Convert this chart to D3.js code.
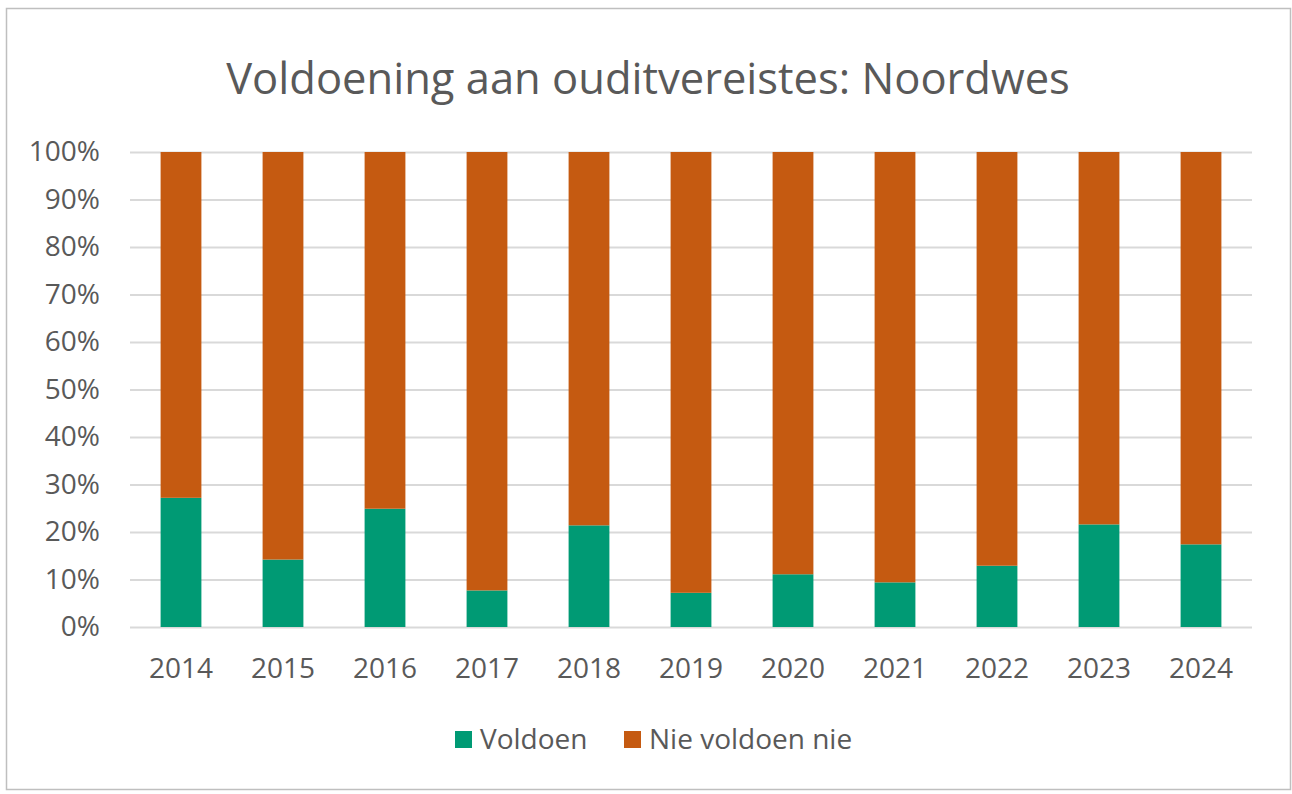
<!DOCTYPE html>
<html>
<head>
<meta charset="utf-8">
<script src="https://cdn.jsdelivr.net/npm/d3@7"></script>
<style>
  body { margin: 0; background: #fff; }
  svg { display: block; font-family: "Open Sans", "Noto Sans", sans-serif; }
</style>
</head>
<body>
<div id="chart"></div>
<script>
const years = ["2014", "2015", "2016", "2017", "2018", "2019", "2020", "2021", "2022", "2023", "2024"];
const voldoen = [27.2, 14.2, 24.9, 7.7, 21.4, 7.2, 11.1, 9.4, 12.9, 21.6, 17.4];
const nieVoldoen = voldoen.map(v => 100 - v);
const seriesNames = ["Voldoen", "Nie voldoen nie"];
const colors = ["#009a74", "#c55a11"];
const yTicks = [0, 10, 20, 30, 40, 50, 60, 70, 80, 90, 100];

const width = 1292, height = 794;
const margin = { top: 152, right: 40, bottom: 167, left: 130 };

const svg = d3.select("#chart")
  .append("svg")
  .attr("width", width)
  .attr("height", height);

// outer frame
svg.append("rect")
  .attr("x", 6.5).attr("y", 8.5)
  .attr("width", 1284).attr("height", 781)
  .attr("fill", "#fff")
  .attr("stroke", "#bfbfbf")
  .attr("stroke-width", 1.5);

svg.append("text")
  .attr("x", 648)
  .attr("y", 94)
  .attr("text-anchor", "middle")
  .attr("fill", "#595959")
  .style("font-size", "43.5px")
  .text("Voldoening aan ouditvereistes: Noordwes");

const plotW = width - margin.left - margin.right;
const plotH = height - margin.top - margin.bottom;

const g = svg.append("g")
  .attr("transform", "translate(" + margin.left + "," + margin.top + ")");

const x = d3.scaleBand()
  .domain(years)
  .range([0, plotW])
  .paddingInner(0.6)
  .paddingOuter(0.3);

const y = d3.scaleLinear()
  .domain([0, 100])
  .range([plotH, 0]);

// gridlines
g.append("g")
  .call(d3.axisLeft(y).tickValues(yTicks).tickSize(-plotW).tickFormat(""))
  .call(a => a.select(".domain").remove())
  .call(a => a.selectAll("line").attr("stroke", "#d9d9d9").attr("stroke-width", 2));

// y labels
g.append("g")
  .call(d3.axisLeft(y).tickValues(yTicks).tickSize(0).tickPadding(30).tickFormat(d => d + "%"))
  .call(a => a.select(".domain").remove())
  .call(a => a.selectAll("text").attr("fill", "#595959").style("font-size", "28px").style("font-family", "Open Sans, sans-serif"));

// x labels
g.append("g")
  .attr("transform", "translate(0," + plotH + ")")
  .call(d3.axisBottom(x).tickSize(0).tickPadding(31))
  .call(a => a.select(".domain").remove())
  .call(a => a.selectAll("text").attr("fill", "#595959").style("font-size", "28px").style("font-family", "Open Sans, sans-serif"));

const rows = years.map((yr, i) => ({ year: yr, Voldoen: voldoen[i], "Nie voldoen nie": nieVoldoen[i] }));
const stacked = d3.stack().keys(seriesNames)(rows);

g.selectAll(".series")
  .data(stacked)
  .enter()
  .append("g")
  .attr("fill", (d, i) => colors[i])
  .selectAll("rect")
  .data(d => d)
  .enter()
  .append("rect")
  .attr("x", d => x(d.data.year))
  .attr("y", d => y(d[1]))
  .attr("width", x.bandwidth())
  .attr("height", d => y(d[0]) - y(d[1]));

// legend
const legend = svg.append("g").attr("transform", "translate(455,731)");
const legendX = [0, 169];
seriesNames.forEach((name, i) => {
  const item = legend.append("g").attr("transform", "translate(" + legendX[i] + ",0)");
  item.append("rect").attr("width", 17).attr("height", 17).attr("fill", colors[i]);
  item.append("text")
    .attr("x", 25).attr("y", 18)
    .attr("fill", "#595959")
    .style("font-size", "28px")
    .text(name);
});
</script>
</body>
</html>
